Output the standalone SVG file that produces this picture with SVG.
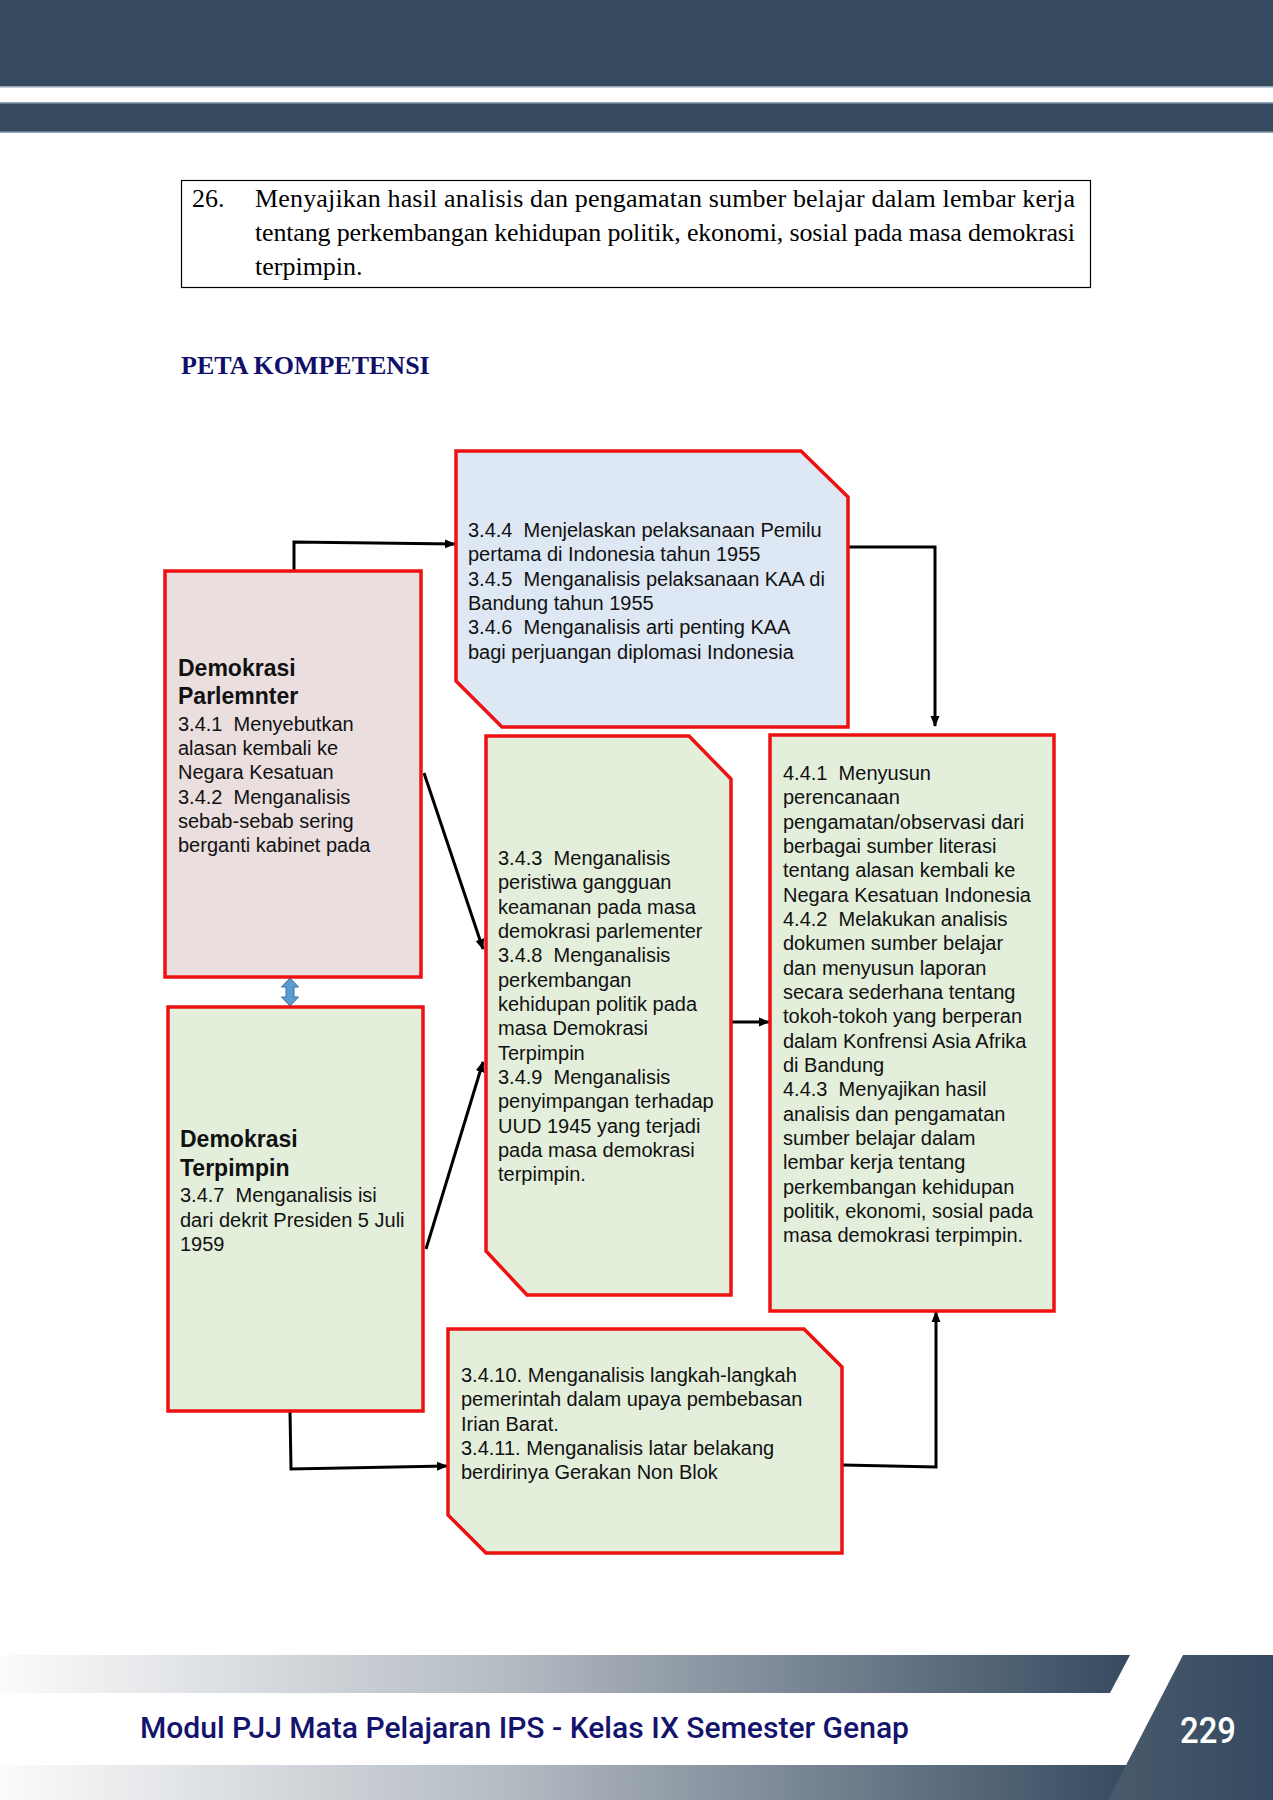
<svg xmlns="http://www.w3.org/2000/svg" width="1273" height="1800" viewBox="0 0 1273 1800">
<style>
.box{stroke:#EE1111;stroke-width:3.5;stroke-linejoin:miter}
.pink{fill:#EADEDE}
.green{fill:#E3EFDB}
.blue{fill:#DEE8F4}
.t{font-family:"Liberation Sans",Arial,sans-serif;font-size:20px;fill:#111;white-space:pre}
.h{font-family:"Liberation Sans",Arial,sans-serif;font-size:23px;font-weight:bold;fill:#111}
.serif{font-family:"Liberation Serif","Times New Roman",serif;font-size:26px;fill:#000;white-space:pre}
.conn{fill:none;stroke:#000;stroke-width:3}
</style>
<defs>
<marker id="arr" markerUnits="userSpaceOnUse" markerWidth="11" markerHeight="10" refX="10" refY="5" orient="auto">
<path d="M0,0.5 L11,5 L0,9.5 z" fill="#000"/>
</marker>
<linearGradient id="bandG" x1="0" y1="0" x2="1130" y2="0" gradientUnits="userSpaceOnUse">
<stop offset="0" stop-color="#fbfbfb"/>
<stop offset="0.45" stop-color="#b4bbc3"/>
<stop offset="1" stop-color="#364a5f"/>
</linearGradient>
<linearGradient id="paraG" x1="1108" y1="0" x2="1273" y2="0" gradientUnits="userSpaceOnUse">
<stop offset="0" stop-color="#4a5a6c"/>
<stop offset="1" stop-color="#344960"/>
</linearGradient>
</defs>

<rect width="1273" height="1800" fill="#fff"/>

<g id="header">
<rect x="0" y="0" width="1273" height="87" fill="#354A5F"/>
<rect x="0" y="86" width="1273" height="1.5" fill="#93a6ba"/>
<rect x="0" y="103" width="1273" height="29" fill="#354A5F"/>
<rect x="0" y="102" width="1273" height="1.5" fill="#93a6ba"/>
<rect x="0" y="131.5" width="1273" height="1.5" fill="#93a6ba"/>
</g>

<g id="objective">
<rect x="181.5" y="180.5" width="909" height="107" fill="none" stroke="#000" stroke-width="1.2"/>
<text class="serif" x="192" y="207">26.</text>
<text class="serif" x="255" y="207" textLength="820" lengthAdjust="spacing">Menyajikan hasil analisis dan pengamatan sumber belajar dalam lembar kerja</text>
<text class="serif" x="255" y="241" textLength="820" lengthAdjust="spacing">tentang perkembangan kehidupan politik, ekonomi, sosial pada masa demokrasi</text>
<text class="serif" x="255" y="275">terpimpin.</text>
</g>

<text id="title" x="181" y="374" font-family="'Liberation Serif','Times New Roman',serif" font-size="26" font-weight="bold" fill="#10106A">PETA KOMPETENSI</text>

<g id="connectors">
<polyline class="conn" points="294,571 294,542 455,544" marker-end="url(#arr)"/>
<polyline class="conn" points="848,547 935,547 935,726" marker-end="url(#arr)"/>
<line class="conn" x1="424" y1="773" x2="483" y2="949" marker-end="url(#arr)"/>
<line class="conn" x1="426" y1="1249" x2="483" y2="1062" marker-end="url(#arr)"/>
<line class="conn" x1="732" y1="1022" x2="769" y2="1022" marker-end="url(#arr)"/>
<polyline class="conn" points="290,1411 291,1469 447,1466" marker-end="url(#arr)"/>
<polyline class="conn" points="843,1465 936,1467 936,1312" marker-end="url(#arr)"/>
<polygon points="290,978 298.5,987 294,987 294,997 298.5,997 290,1006 281.5,997 286,997 286,987 281.5,987" fill="#5B9BD5" stroke="#41719C" stroke-width="1"/>
</g>

<g id="node-parlementer">
<rect class="box pink" x="165" y="571" width="256" height="406"/>
<text class="h" x="178" y="676">Demokrasi</text>
<text class="h" x="178" y="704">Parlemnter</text>
<text class="t" x="178" y="731">3.4.1  Menyebutkan</text>
<text class="t" x="178" y="755">alasan kembali ke</text>
<text class="t" x="178" y="779">Negara Kesatuan</text>
<text class="t" x="178" y="804">3.4.2  Menganalisis</text>
<text class="t" x="178" y="828">sebab-sebab sering</text>
<text class="t" x="178" y="852">berganti kabinet pada</text>
</g>

<g id="node-terpimpin">
<rect class="box green" x="168" y="1007" width="255" height="404"/>
<text class="h" x="180" y="1147">Demokrasi</text>
<text class="h" x="180" y="1176">Terpimpin</text>
<text class="t" x="180" y="1202">3.4.7  Menganalisis isi</text>
<text class="t" x="180" y="1227">dari dekrit Presiden 5 Juli</text>
<text class="t" x="180" y="1251">1959</text>
</g>

<g id="node-pemilu">
<polygon class="box blue" points="456,451 801,451 848,497 848,727 502,727 456,681"/>
<text class="t" x="468" y="537">3.4.4  Menjelaskan pelaksanaan Pemilu</text>
<text class="t" x="468" y="561">pertama di Indonesia tahun 1955</text>
<text class="t" x="468" y="586">3.4.5  Menganalisis pelaksanaan KAA di</text>
<text class="t" x="468" y="610">Bandung tahun 1955</text>
<text class="t" x="468" y="634">3.4.6  Menganalisis arti penting KAA</text>
<text class="t" x="468" y="659">bagi perjuangan diplomasi Indonesia</text>
</g>

<g id="node-analisis">
<polygon class="box green" points="486,736 689,736 731,779 731,1295 527,1295 486,1251"/>
<text class="t" x="498" y="865">3.4.3  Menganalisis</text>
<text class="t" x="498" y="889">peristiwa gangguan</text>
<text class="t" x="498" y="914">keamanan pada masa</text>
<text class="t" x="498" y="938">demokrasi parlementer</text>
<text class="t" x="498" y="962">3.4.8  Menganalisis</text>
<text class="t" x="498" y="987">perkembangan</text>
<text class="t" x="498" y="1011">kehidupan politik pada</text>
<text class="t" x="498" y="1035">masa Demokrasi</text>
<text class="t" x="498" y="1060">Terpimpin</text>
<text class="t" x="498" y="1084">3.4.9  Menganalisis</text>
<text class="t" x="498" y="1108">penyimpangan terhadap</text>
<text class="t" x="498" y="1133">UUD 1945 yang terjadi</text>
<text class="t" x="498" y="1157">pada masa demokrasi</text>
<text class="t" x="498" y="1181">terpimpin.</text>
</g>

<g id="node-keterampilan">
<rect class="box green" x="770" y="735" width="284" height="576"/>
<text class="t" x="783" y="780">4.4.1  Menyusun</text>
<text class="t" x="783" y="804">perencanaan</text>
<text class="t" x="783" y="829">pengamatan/observasi dari</text>
<text class="t" x="783" y="853">berbagai sumber literasi</text>
<text class="t" x="783" y="877">tentang alasan kembali ke</text>
<text class="t" x="783" y="902">Negara Kesatuan Indonesia</text>
<text class="t" x="783" y="926">4.4.2  Melakukan analisis</text>
<text class="t" x="783" y="950">dokumen sumber belajar</text>
<text class="t" x="783" y="975">dan menyusun laporan</text>
<text class="t" x="783" y="999">secara sederhana tentang</text>
<text class="t" x="783" y="1023">tokoh-tokoh yang berperan</text>
<text class="t" x="783" y="1048">dalam Konfrensi Asia Afrika</text>
<text class="t" x="783" y="1072">di Bandung</text>
<text class="t" x="783" y="1096">4.4.3  Menyajikan hasil</text>
<text class="t" x="783" y="1121">analisis dan pengamatan</text>
<text class="t" x="783" y="1145">sumber belajar dalam</text>
<text class="t" x="783" y="1169">lembar kerja tentang</text>
<text class="t" x="783" y="1194">perkembangan kehidupan</text>
<text class="t" x="783" y="1218">politik, ekonomi, sosial pada</text>
<text class="t" x="783" y="1242">masa demokrasi terpimpin.</text>
</g>

<g id="node-irian">
<polygon class="box green" points="448,1329 804,1329 842,1367 842,1553 486,1553 448,1515"/>
<text class="t" x="461" y="1382">3.4.10. Menganalisis langkah-langkah</text>
<text class="t" x="461" y="1406">pemerintah dalam upaya pembebasan</text>
<text class="t" x="461" y="1431">Irian Barat.</text>
<text class="t" x="461" y="1455">3.4.11. Menganalisis latar belakang</text>
<text class="t" x="461" y="1479">berdirinya Gerakan Non Blok</text>
</g>

<g id="footer">
<polygon points="0,1655 1130,1655 1110,1693 0,1693" fill="url(#bandG)"/>
<rect x="0" y="1765" width="1273" height="35" fill="url(#bandG)"/>
<polygon points="1183,1655 1273,1655 1273,1800 1108,1800" fill="url(#paraG)"/>
<text x="140" y="1738" font-family="Roboto,'Open Sans',sans-serif" font-size="30" font-weight="500" fill="#14146C" textLength="769" lengthAdjust="spacingAndGlyphs">Modul PJJ Mata Pelajaran IPS - Kelas IX Semester Genap</text>
<text x="1180" y="1743" font-family="Roboto,'Open Sans',sans-serif" font-size="36" font-weight="500" fill="#ffffff" textLength="56" lengthAdjust="spacingAndGlyphs">229</text>
</g>
</svg>
